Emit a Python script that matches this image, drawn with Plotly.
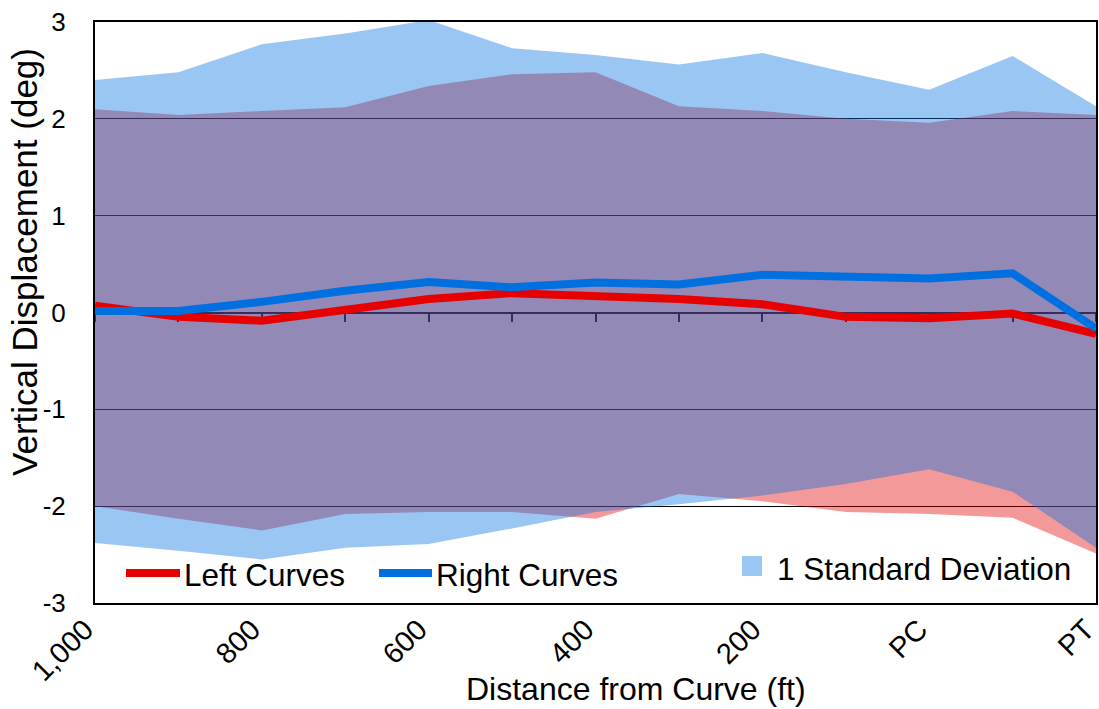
import plotly.graph_objects as go

# ---- data ----
categories = ["1,000", "900", "800", "700", "600", "500", "400", "300", "200", "100", "PC", "MC", "PT"]
shown_labels = ["1,000", "", "800", "", "600", "", "400", "", "200", "", "PC", "", "PT"]

left_mean = [0.07, -0.045, -0.085, 0.025, 0.14, 0.20, 0.18, 0.14, 0.085, -0.045, -0.06, -0.01, -0.22]
left_upper = [2.10, 2.04, 2.08, 2.12, 2.34, 2.46, 2.48, 2.13, 2.08, 2.00, 1.96, 2.08, 2.04]
left_lower = [-2.00, -2.13, -2.25, -2.08, -2.06, -2.06, -2.13, -1.875, -1.95, -2.06, -2.08, -2.12, -2.49]

right_mean = [0.015, 0.015, 0.11, 0.225, 0.315, 0.26, 0.31, 0.29, 0.39, 0.36, 0.35, 0.405, -0.165]
right_upper = [2.40, 2.48, 2.77, 2.88, 3.02, 2.73, 2.66, 2.56, 2.68, 2.48, 2.30, 2.65, 2.13]
right_lower = [-2.38, -2.46, -2.55, -2.43, -2.39, -2.23, -2.06, -1.98, -1.89, -1.77, -1.62, -1.85, -2.43]

y_ticks = [-3, -2, -1, 0, 1, 2, 3]
y_ticktext = ["-3", "-2", "-1", "0", "1", "2", "3"]

RED = "#E60000"
BLUE = "#0070E0"
RED_FILL = "rgba(227,0,0,0.4)"
BLUE_FILL = "rgba(0,112,225,0.4)"
FONT = "Arial, Liberation Sans, sans-serif"

idx = list(range(len(categories)))

fig = go.Figure()

# left curves band (drawn first)
fig.add_trace(go.Scatter(x=idx, y=left_lower, mode="lines", line=dict(width=0),
                         showlegend=False, hoverinfo="skip"))
fig.add_trace(go.Scatter(x=idx, y=left_upper, mode="lines", line=dict(width=0),
                         fill="tonexty", fillcolor=RED_FILL, showlegend=False, hoverinfo="skip"))
# right curves band (on top)
fig.add_trace(go.Scatter(x=idx, y=right_lower, mode="lines", line=dict(width=0),
                         showlegend=False, hoverinfo="skip"))
fig.add_trace(go.Scatter(x=idx, y=right_upper, mode="lines", line=dict(width=0),
                         fill="tonexty", fillcolor=BLUE_FILL, showlegend=False, hoverinfo="skip"))

# mean lines
fig.add_trace(go.Scatter(x=idx, y=left_mean, mode="lines", name="Left Curves",
                         line=dict(color=RED, width=8), showlegend=False))
fig.add_trace(go.Scatter(x=idx, y=right_mean, mode="lines", name="Right Curves",
                         line=dict(color=BLUE, width=8), showlegend=False))

# helper trace for the axis crossing at zero
fig.add_trace(go.Scatter(x=[], y=[], xaxis="x2", yaxis="y", showlegend=False, hoverinfo="skip"))

W, H = 1099, 709
# plot area in pixels: x 95..1096, y 22..603
L, R, T, B = 95, 1096, 22, 603
def px(xp):
    return (xp - L) / (R - L)
def py(yp):
    return (B - yp) / (B - T)

shapes = [
    dict(type="line", xref="paper", yref="paper", x0=px(126), x1=px(180), y0=py(573), y1=py(573),
         line=dict(color=RED, width=8)),
    dict(type="line", xref="paper", yref="paper", x0=px(379), x1=px(432), y0=py(573), y1=py(573),
         line=dict(color=BLUE, width=8)),
    dict(type="rect", xref="paper", yref="paper", x0=px(742), x1=px(762), y0=py(576), y1=py(556),
         fillcolor="#99C6F3", line=dict(width=0)),
]

LEG = 31.5
annotations = [
    dict(text="Left Curves", xref="paper", yref="paper", x=px(182), y=py(575), xanchor="left",
         yanchor="middle", showarrow=False, font=dict(size=LEG, color="black", family=FONT)),
    dict(text="Right Curves", xref="paper", yref="paper", x=px(434), y=py(575), xanchor="left",
         yanchor="middle", showarrow=False, font=dict(size=LEG, color="black", family=FONT)),
    dict(text="1 Standard Deviation", xref="paper", yref="paper", x=px(775), y=py(569), xanchor="left",
         yanchor="middle", showarrow=False, font=dict(size=LEG, color="black", family=FONT)),
    dict(text="Distance from Curve (ft)", xref="paper", yref="paper", x=px(636), y=py(689),
         xanchor="center", yanchor="middle", showarrow=False,
         font=dict(size=32, color="black", family=FONT)),
    dict(text="Vertical Displacement (deg)", xref="paper", yref="paper", x=px(24), y=py(262),
         xanchor="center", yanchor="middle", textangle=-90, showarrow=False,
         font=dict(size=35, color="black", family=FONT)),
]

fig.update_layout(
    width=W, height=H,
    margin=dict(l=L, r=W - R, t=T, b=H - B, autoexpand=False),
    paper_bgcolor="white", plot_bgcolor="white",
    font=dict(family=FONT, color="black", size=28),
    showlegend=False,
    shapes=shapes,
    annotations=annotations,
    xaxis=dict(range=[0, 12], tickmode="array", tickvals=idx, ticktext=shown_labels,
               tickangle=-45, showgrid=False, zeroline=False, ticks="",
               showline=True, mirror=True, linecolor="black", linewidth=2,
               automargin=False, ticklabeloverflow="allow", ticklabelstandoff=-4,
               ticklabelshift=-10,
               tickfont=dict(size=29, family=FONT, color="black")),
    xaxis2=dict(overlaying="x", anchor="free", position=0.5, side="bottom",
                range=[0, 12], tickmode="array", tickvals=idx, showticklabels=False,
                ticks="outside", ticklen=8, tickwidth=2, tickcolor="black",
                showline=True, linecolor="black", linewidth=2, showgrid=False,
                zeroline=False, layer="below traces", automargin=False),
    yaxis=dict(range=[-3, 3], tickmode="array", tickvals=y_ticks, ticktext=y_ticktext,
               showgrid=True, gridcolor="black", gridwidth=1, zeroline=False,
               showline=True, mirror=True, linecolor="black", linewidth=2,
               ticks="", ticklabelstandoff=22, automargin=False, ticklabeloverflow="allow",
               tickfont=dict(size=26, family=FONT, color="black")),
)

# remove the default page margin so the 1099x709 figure fills the window exactly
fig.write_html("out.html", config={"displayModeBar": False},
               post_script="document.body.style.margin='0';document.body.style.padding='0';")
